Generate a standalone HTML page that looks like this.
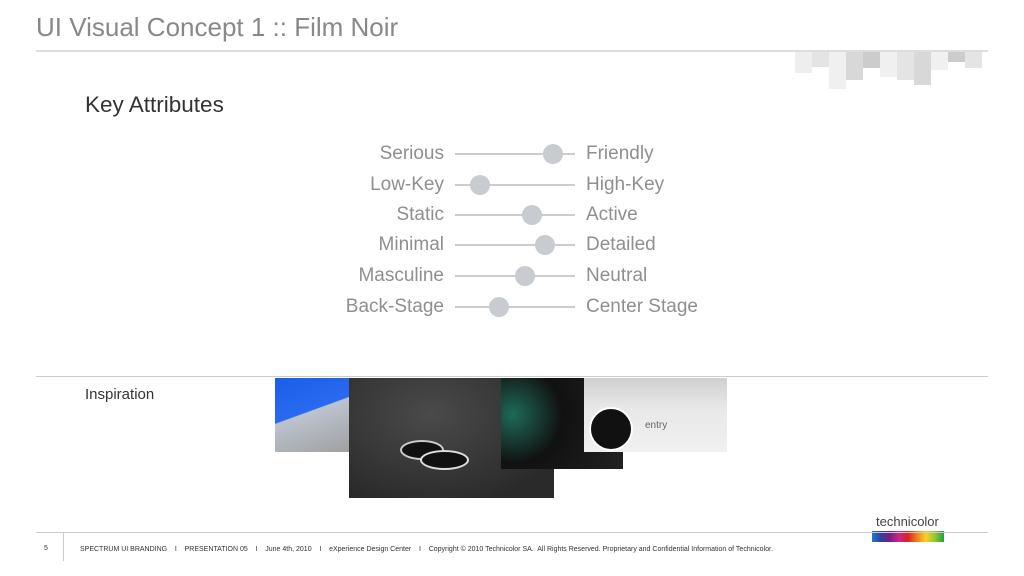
<!DOCTYPE html><html><head><style>
body{margin:0;width:1024px;height:576px;background:#fff;position:relative;overflow:hidden;font-family:"Liberation Sans",sans-serif}
.a{position:absolute}
.l{position:absolute;width:200px;text-align:right;font-size:19px;color:#8f8f8f;left:244px}
.r{position:absolute;left:586px;font-size:19px;color:#8f8f8f}
.t{position:absolute;left:455px;width:120px;height:2px;background:#ccc}
.k{position:absolute;width:20px;height:20px;border-radius:50%;background:#c8ccd0}
</style></head><body>
<div class="a" style="left:36px;top:12px;font-size:26px;color:#888">UI Visual Concept 1 :: Film Noir</div>
<div class="a" style="left:36px;top:50px;width:952px;height:2px;background:#ddd"></div>
<div class="a" style="left:795px;top:52px;width:17px;height:21px;background:#eee"></div>
<div class="a" style="left:812px;top:52px;width:17px;height:15px;background:#e4e4e4"></div>
<div class="a" style="left:829px;top:52px;width:17px;height:37px;background:#f0f0f0"></div>
<div class="a" style="left:846px;top:52px;width:17px;height:28px;background:#d8d8d8"></div>
<div class="a" style="left:863px;top:52px;width:17px;height:16px;background:#ccc"></div>
<div class="a" style="left:880px;top:52px;width:17px;height:25px;background:#f0f0f0"></div>
<div class="a" style="left:897px;top:52px;width:17px;height:28px;background:#e4e4e4"></div>
<div class="a" style="left:914px;top:52px;width:17px;height:33px;background:#d8d8d8"></div>
<div class="a" style="left:931px;top:52px;width:17px;height:18px;background:#f0f0f0"></div>
<div class="a" style="left:948px;top:52px;width:17px;height:10px;background:#ccc"></div>
<div class="a" style="left:965px;top:52px;width:17px;height:16px;background:#e4e4e4"></div>
<div class="a" style="left:85px;top:92px;font-size:22.5px;color:#333">Key Attributes</div>

<div class="l" style="top:143px">Serious</div><div class="r" style="top:143px">Friendly</div><div class="t" style="top:153px"></div><div class="k" style="left:543px;top:144px"></div>
<div class="l" style="top:174px">Low-Key</div><div class="r" style="top:174px">High-Key</div><div class="t" style="top:184px"></div><div class="k" style="left:470px;top:175px"></div>
<div class="l" style="top:204px">Static</div><div class="r" style="top:204px">Active</div><div class="t" style="top:214px"></div><div class="k" style="left:522px;top:205px"></div>
<div class="l" style="top:234px">Minimal</div><div class="r" style="top:234px">Detailed</div><div class="t" style="top:244px"></div><div class="k" style="left:535px;top:235px"></div>
<div class="l" style="top:265px">Masculine</div><div class="r" style="top:265px">Neutral</div><div class="t" style="top:275px"></div><div class="k" style="left:515px;top:266px"></div>
<div class="l" style="top:296px">Back-Stage</div><div class="r" style="top:296px">Center Stage</div><div class="t" style="top:306px"></div><div class="k" style="left:489px;top:297px"></div>

<div class="a" style="left:36px;top:376px;width:952px;height:1px;background:#ccc"></div>
<div class="a" style="left:85px;top:386px;font-size:15px;color:#333">Inspiration</div>
<div class="a" style="left:275px;top:378px;width:74px;height:74px;background:linear-gradient(160deg,#1a5ee8 0%,#2a6af0 45%,#bcc4d0 46%,#a0a0a0 100%)"></div>
<div class="a" style="left:349px;top:378px;width:205px;height:120px;background:radial-gradient(ellipse at 40% 30%,#4a4a4a,#2a2a2a 80%)"></div>
<div class="a" style="left:400px;top:440px;width:40px;height:16px;border-radius:50%;background:#111;border:2px solid #ccc"></div>
<div class="a" style="left:420px;top:450px;width:45px;height:16px;border-radius:50%;background:#111;border:2px solid #ddd"></div>
<div class="a" style="left:501px;top:378px;width:122px;height:91px;background:radial-gradient(circle at 10% 40%,#1e6a58 0%,#111 40%,#222 100%)"></div>
<div class="a" style="left:584px;top:378px;width:143px;height:74px;background:linear-gradient(#cfcfcf 0%,#e8e8e8 40%,#f0f0f0 100%)"></div>
<div class="a" style="left:589px;top:407px;width:40px;height:40px;border-radius:50%;background:#111;border:2px solid #fff"></div>
<div class="a" style="left:645px;top:420px;font-size:10px;color:#666">entry</div>

<div class="a" style="left:876px;top:514px;font-size:13px;color:#444">technicolor</div>
<div class="a" style="left:872px;top:531px;width:72px;height:11px;background:linear-gradient(90deg,#1e7ad0,#3040a0,#7a1e80,#c8288a,#e02020,#f08020,#f8d020,#90c830,#20a040)"></div>
<div class="a" style="left:36px;top:532px;width:952px;height:1px;background:#ccc"></div>
<div class="a" style="left:63px;top:533px;width:1px;height:28px;background:#ccc"></div>
<div class="a" style="left:44px;top:545px;font-size:7px;color:#333">5</div>
<div class="a" style="left:80px;top:546px;font-size:7px;color:#333;white-space:nowrap">SPECTRUM UI BRANDING &nbsp; &nbsp;I &nbsp; &nbsp;PRESENTATION 05 &nbsp; &nbsp;I &nbsp; &nbsp;June 4th, 2010 &nbsp; &nbsp;I &nbsp; &nbsp;eXperience Design Center &nbsp; &nbsp;I &nbsp; &nbsp;Copyright © 2010 Technicolor SA.&nbsp; All Rights Reserved. Proprietary and Confidential Information of Technicolor.</div>
</body></html>
